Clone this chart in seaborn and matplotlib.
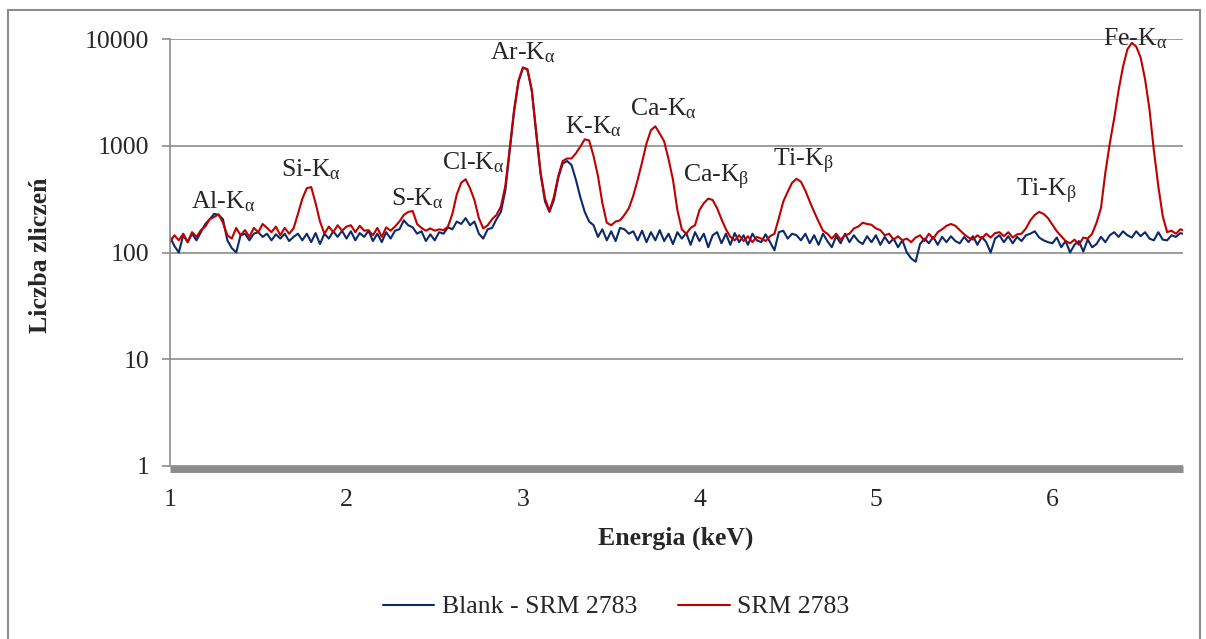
import numpy as np
import pandas as pd
import matplotlib
matplotlib.use("Agg")
import matplotlib.pyplot as plt
import seaborn as sns
from matplotlib.patches import Rectangle

# ---------------- data ----------------
energy_start = 1.0      # keV
energy_step = 0.025     # keV per sample

srm_counts = [
    125, 145, 130, 150, 125, 155, 140, 162, 175, 205,
    215, 228, 190, 145, 135, 170, 145, 162, 140, 170,
    155, 185, 170, 155, 175, 145, 170, 150, 168, 230,
    320, 400, 410, 290, 195, 150, 175, 155, 180, 160,
    175, 180, 155, 178, 160, 162, 145, 170, 140, 172,
    160, 175, 195, 225, 240, 245, 185, 170, 160, 168,
    160, 165, 162, 175, 230, 350, 450, 485, 400, 310,
    210, 168, 180, 205, 225, 270, 420, 950, 2200, 4100,
    5400, 5200, 3300, 1350, 560, 320, 245, 330, 520, 720,
    760, 760, 850, 980, 1150, 1120, 800, 520, 290, 190,
    180, 195, 200, 225, 260, 340, 480, 700, 1050, 1400,
    1520, 1300, 1100, 750, 480, 250, 165, 150, 170, 180,
    250, 290, 320, 310, 260, 205, 165, 140, 130, 145,
    128, 142, 125, 140, 135, 128, 142, 150, 210, 300,
    370, 450, 490, 460, 380, 300, 240, 195, 160, 150,
    135, 150, 132, 145, 150, 168, 175, 190, 185, 182,
    168, 162, 145, 150, 132, 142, 130, 135, 125, 138,
    145, 128, 150, 135, 155, 165, 178, 185, 178, 162,
    148, 138, 132, 145, 135, 150, 138, 152, 155, 142,
    155, 138, 148, 150, 168, 200, 225, 240, 230, 210,
    182, 158, 142, 128, 122, 132, 118, 138, 135, 150,
    190, 260, 560, 1050, 1800, 3300, 5500, 8000, 9200, 8500,
    6700, 4200, 2200, 900, 420, 220, 155, 160, 150, 165,
    160,
]

blank_counts = [
    140, 115, 100, 145, 125, 150, 130, 155, 185, 205,
    230, 225, 205, 130, 110, 100, 145, 150, 130, 150,
    155, 140, 150, 130, 148, 135, 150, 128, 140, 150,
    130, 150, 125, 152, 120, 150, 135, 158, 140, 160,
    135, 158, 130, 152, 140, 160, 128, 150, 125, 155,
    135, 160, 165, 200, 180, 172, 150, 158, 128, 148,
    130, 155, 150, 172, 165, 195, 185, 210, 180, 195,
    150, 135, 165, 170, 205, 240, 380, 900, 2100, 4000,
    5400, 5200, 3300, 1300, 540, 300, 240, 310, 500, 680,
    720, 660, 480, 330, 240, 195, 180, 140, 165, 130,
    158, 128, 170, 165, 150, 158, 130, 160, 125, 155,
    130, 162, 128, 150, 120, 155, 135, 152, 118, 155,
    128, 150, 112, 145, 155, 122, 150, 118, 152, 125,
    145, 118, 150, 130, 125, 148, 125, 105, 155, 160,
    135, 150, 145, 130, 150, 122, 145, 118, 150, 128,
    112, 142, 122, 150, 125, 145, 128, 120, 142, 125,
    145, 118, 140, 122, 135, 112, 130, 100, 88, 82,
    120, 135, 122, 140, 118, 140, 125, 142, 128, 122,
    140, 125, 142, 118, 140, 125, 100, 135, 145, 125,
    142, 122, 140, 128, 145, 150, 158, 138, 130, 125,
    122, 138, 112, 128, 100, 118, 128, 102, 132, 112,
    120, 140, 125, 145, 155, 140, 158, 145, 138, 158,
    142, 155, 135, 130, 155, 132, 130, 145, 140, 152,
    148,
]

series_names = ["Blank - SRM 2783", "SRM 2783"]
series_colors = ["#0B2A6B", "#C00000"]

peak_labels = [
    r"Al-K$_{\mathrm{\alpha}}$", r"Si-K$_{\mathrm{\alpha}}$", r"S-K$_{\mathrm{\alpha}}$",
    r"Cl-K$_{\mathrm{\alpha}}$", r"Ar-K$_{\mathrm{\alpha}}$", r"K-K$_{\mathrm{\alpha}}$",
    r"Ca-K$_{\mathrm{\alpha}}$", r"Ca-K$_{\mathrm{\beta}}$", r"Ti-K$_{\mathrm{\beta}}$",
    r"Ti-K$_{\mathrm{\beta}}$", r"Fe-K$_{\mathrm{\alpha}}$",
]
peak_label_energy = [1.30, 1.80, 2.40, 2.72, 3.00, 3.40, 3.795, 4.095, 4.59, 5.966, 6.47]
peak_label_counts = [300, 600, 320, 690, 7400, 1500, 2200, 500, 720, 375, 10000]

x_ticks = [1, 2, 3, 4, 5, 6]
y_ticks = [1, 10, 100, 1000, 10000]
y_tick_labels = ["1", "10", "100", "1000", "10000"]

# ---------------- build table ----------------
n = len(srm_counts)
energy = np.round(energy_start + energy_step * np.arange(n), 4)
df = pd.DataFrame({
    "Energia": np.concatenate([energy, energy]),
    "Zliczenia": blank_counts + srm_counts,
    "Seria": [series_names[0]] * n + [series_names[1]] * n,
})

# ---------------- style ----------------
sns.set_theme(style="white")
plt.rcParams["font.family"] = ["Liberation Serif", "DejaVu Serif"]
plt.rcParams["mathtext.fontset"] = "custom"
plt.rcParams["mathtext.rm"] = "Liberation Serif"
plt.rcParams["mathtext.it"] = "Liberation Serif:italic"
plt.rcParams["mathtext.bf"] = "Liberation Serif:bold"

FS = 18.5
GRAY = "#8C8C8C"

fig = plt.figure(figsize=(12.06, 6.39), dpi=100)
ax = fig.add_axes([170 / 1206, 1 - 466 / 639, (1183 - 170) / 1206, (466 - 39) / 639])

sns.lineplot(data=df, x="Energia", y="Zliczenia", hue="Seria",
             palette=dict(zip(series_names, series_colors)),
             hue_order=series_names, estimator=None, linewidth=1.5, ax=ax)

ax.set_yscale("log")
ax.set_ylim(1, 10000)
ax.set_xlim(1, 6.74)
ax.set_yticks(y_ticks)
ax.set_yticklabels(y_tick_labels)
ax.yaxis.set_minor_locator(matplotlib.ticker.NullLocator())
ax.set_xticks(x_ticks)
ax.set_xticklabels([str(t) for t in x_ticks])
ax.set_xlabel("")
ax.set_ylabel("")

ax.set_axisbelow(True)
ax.yaxis.grid(True, color=GRAY, linewidth=1.2)
ax.xaxis.grid(False)

for s in ["top", "right"]:
    ax.spines[s].set_visible(False)
ax.spines["left"].set_color(GRAY)
ax.spines["left"].set_linewidth(1.2)
ax.spines["bottom"].set_color(GRAY)
ax.spines["bottom"].set_linewidth(5)
ax.spines["bottom"].set_capstyle("butt")
ax.spines["bottom"].set_position(("outward", 2.5))
ax.spines["bottom"].set_zorder(0.5)

ax.tick_params(axis="y", which="major", left=True, direction="out", length=6,
               width=1.2, color=GRAY, labelsize=FS, pad=9)
ax.tick_params(axis="x", which="major", bottom=True, length=0, labelsize=FS, pad=14)

for lab, e, c in zip(peak_labels, peak_label_energy, peak_label_counts):
    ax.text(e, c, lab, ha="center", va="center", fontsize=FS)

handles, labels = ax.get_legend_handles_labels()
if ax.get_legend() is not None:
    ax.get_legend().remove()
fig.legend(handles, labels, loc="center", bbox_to_anchor=(616 / 1206, 1 - 607 / 639),
           ncol=2, frameon=False, fontsize=FS, handlelength=2.0,
           handletextpad=0.3, columnspacing=1.6)

fig.text(676 / 1206, 1 - 538 / 639, "Energia (keV)", ha="center", va="center",
         fontsize=FS, fontweight="bold")
fig.text(41 / 1206, 1 - 255 / 639, "Liczba zliczeń", ha="center", va="center",
         fontsize=FS, fontweight="bold", rotation=90)

fig.patches.append(Rectangle((8 / 1206, -0.01), (1200 - 8) / 1206, (639 - 10) / 639 + 0.01,
                             transform=fig.transFigure, fill=False,
                             edgecolor=GRAY, linewidth=1.5))

fig.savefig("out.png", dpi=100)
